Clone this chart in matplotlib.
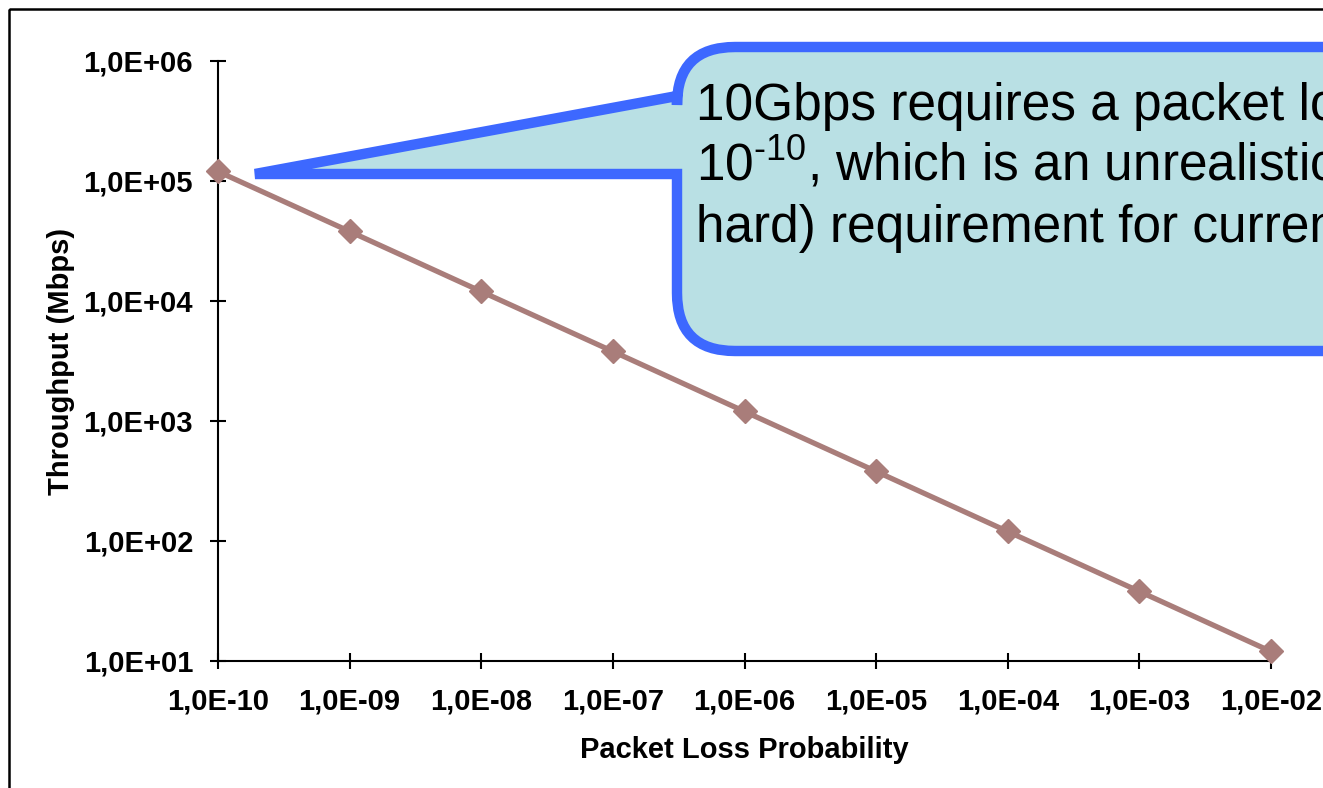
import matplotlib
matplotlib.use("Agg")
import matplotlib.pyplot as plt
from matplotlib.path import Path
from matplotlib.patches import PathPatch, Rectangle
from matplotlib.ticker import FixedLocator, FuncFormatter
from matplotlib.transforms import Affine2D

# Throughput vs. packet loss probability
loss_prob = [1e-10, 1e-9, 1e-8, 1e-7, 1e-6, 1e-5, 1e-4, 1e-3, 1e-2]
throughput = [120000, 38000, 12000, 3800, 1200, 380, 120, 38, 12]

y_ticks = [1e1, 1e2, 1e3, 1e4, 1e5, 1e6]

callout_lines = [
    "10Gbps requires a packet loss of",
    "$\\mathregular{10^{\u201010}}$, which is an unrealistic (very",
    "hard) requirement for current networks",
]

W, H = 1323, 788
plt.rcParams['font.family'] = ['Liberation Sans', 'DejaVu Sans']

fig = plt.figure(figsize=(W / 100, H / 100), dpi=100)
ax = fig.add_axes([218 / W, 1 - 661 / H, (1271 - 218) / W, 600 / H])

ax.plot(loss_prob, throughput, color='#A97D7A', lw=3.8, marker='D', ms=12,
        clip_on=False, zorder=3)

ax.set_xscale('log')
ax.set_yscale('log')
ax.set_xlim(1e-10, 1e-2)
ax.set_ylim(1e1, 1e6)
ax.xaxis.set_major_locator(FixedLocator(loss_prob))
ax.yaxis.set_major_locator(FixedLocator(y_ticks))
ax.minorticks_off()

fmt = FuncFormatter(lambda v, pos: f"{v:.1E}".replace('.', ','))
ax.xaxis.set_major_formatter(fmt)
ax.yaxis.set_major_formatter(fmt)

for side in ['top', 'right']:
    ax.spines[side].set_visible(False)
for side in ['left', 'bottom']:
    ax.spines[side].set_linewidth(1.5)
ax.tick_params(direction='inout', length=12, width=1.5, labelsize=21)
ax.tick_params(axis='y', pad=12)
ax.tick_params(axis='x', pad=13)
for lbl in ax.get_xticklabels() + ax.get_yticklabels():
    lbl.set_fontweight('bold')

ax.set_xlabel('Packet Loss Probability', fontsize=21, fontweight='bold', labelpad=15)
ax.set_ylabel('Throughput (Mbps)', fontsize=21, fontweight='bold', labelpad=6)

# pixel coordinates (origin top-left) -> figure
px = Affine2D().scale(1 / W, -1 / H).translate(0, 1) + fig.transFigure

# outer frame
fig.patches.append(Rectangle((8.5, 8.5), 1500, 1000, fill=False, ec='black',
                             lw=1.8, transform=px))

# speech-bubble callout pointing at the first point
r = 58
bx, top, bot = 677, 47, 351
verts = [(255, 174), (bx, 174), (bx, bot - r), (bx, bot), (bx + r, bot),
         (1450, bot), (1450, top), (bx + r, top), (bx, top), (bx, top + r),
         (bx, 96), (255, 174)]
codes = [Path.MOVETO, Path.LINETO, Path.LINETO, Path.CURVE3, Path.CURVE3,
         Path.LINETO, Path.LINETO, Path.LINETO, Path.CURVE3, Path.CURVE3,
         Path.LINETO, Path.CLOSEPOLY]
bubble = PathPatch(Path(verts, codes), fc='#B9E0E4', ec='#3D68FF', lw=7.5,
                   joinstyle='miter', transform=px)
fig.patches.append(bubble)

for i, line in enumerate(callout_lines):
    fig.text(696, 120 + 61 * i, line, transform=px, fontsize=37,
             va='baseline', ha='left')

fig.savefig('out.png', dpi=100)
